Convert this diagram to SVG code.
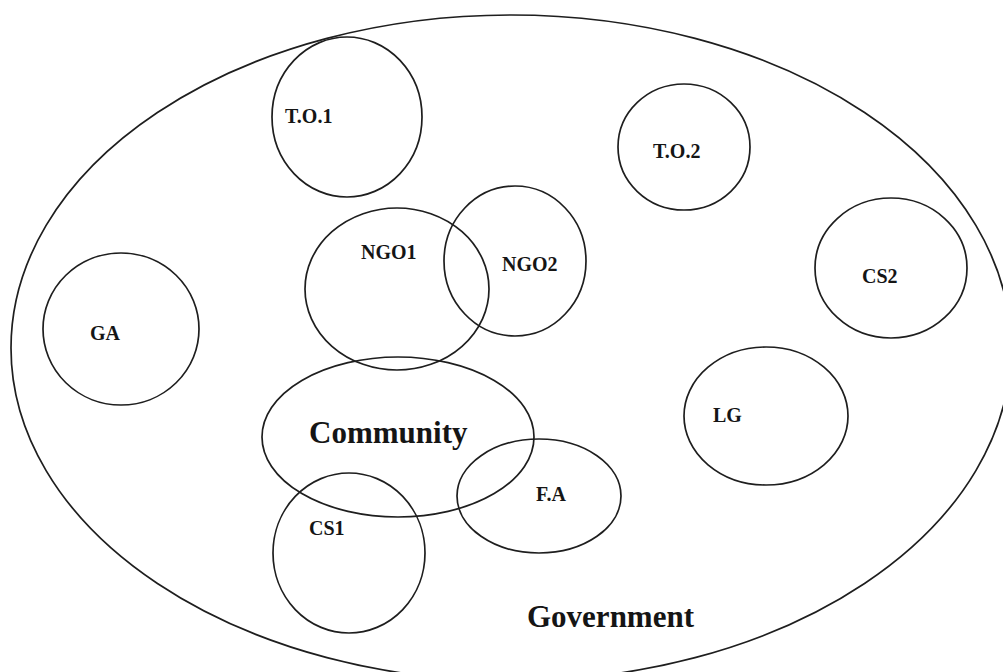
<svg xmlns="http://www.w3.org/2000/svg" width="1003" height="672" viewBox="0 0 1003 672">
  <style>
    .shape { fill: none; stroke: #1e1e1e; stroke-width: 1.7; }
    .lbl { font-family: "Liberation Serif", "Times New Roman", serif; font-weight: bold; font-size: 20px; fill: #151515; }
    .big { font-size: 31px; }
  </style>
  <rect x="0" y="0" width="1003" height="672" fill="#ffffff"/>
  <g id="government">
    <ellipse class="shape" cx="511" cy="348" rx="500" ry="333"/>
    <text class="lbl big" x="527" y="627">Government</text>
  </g>
  <g id="to1">
    <ellipse class="shape" cx="347" cy="117" rx="75" ry="80"/>
    <text class="lbl" x="285" y="123">T.O.1</text>
  </g>
  <g id="to2">
    <ellipse class="shape" cx="684" cy="147" rx="66" ry="63"/>
    <text class="lbl" x="653" y="158">T.O.2</text>
  </g>
  <g id="ga">
    <ellipse class="shape" cx="121" cy="329" rx="78" ry="76"/>
    <text class="lbl" x="90" y="340">GA</text>
  </g>
  <g id="ngo1">
    <ellipse class="shape" cx="397" cy="289" rx="92" ry="81"/>
    <text class="lbl" x="361" y="259">NGO1</text>
  </g>
  <g id="ngo2">
    <ellipse class="shape" cx="515" cy="261" rx="71" ry="75"/>
    <text class="lbl" x="502" y="271">NGO2</text>
  </g>
  <g id="cs2">
    <ellipse class="shape" cx="891" cy="268" rx="76" ry="70"/>
    <text class="lbl" x="862" y="283">CS2</text>
  </g>
  <g id="community">
    <ellipse class="shape" cx="398" cy="437" rx="136" ry="80"/>
    <text class="lbl big" x="309" y="443">Community</text>
  </g>
  <g id="lg">
    <ellipse class="shape" cx="766" cy="416" rx="82" ry="69"/>
    <text class="lbl" x="713" y="422">LG</text>
  </g>
  <g id="fa">
    <ellipse class="shape" cx="539" cy="496" rx="82" ry="57"/>
    <text class="lbl" x="536" y="501">F.A</text>
  </g>
  <g id="cs1">
    <ellipse class="shape" cx="349" cy="553" rx="76" ry="80"/>
    <text class="lbl" x="309" y="535">CS1</text>
  </g>
  <g id="connectors"></g>
</svg>
